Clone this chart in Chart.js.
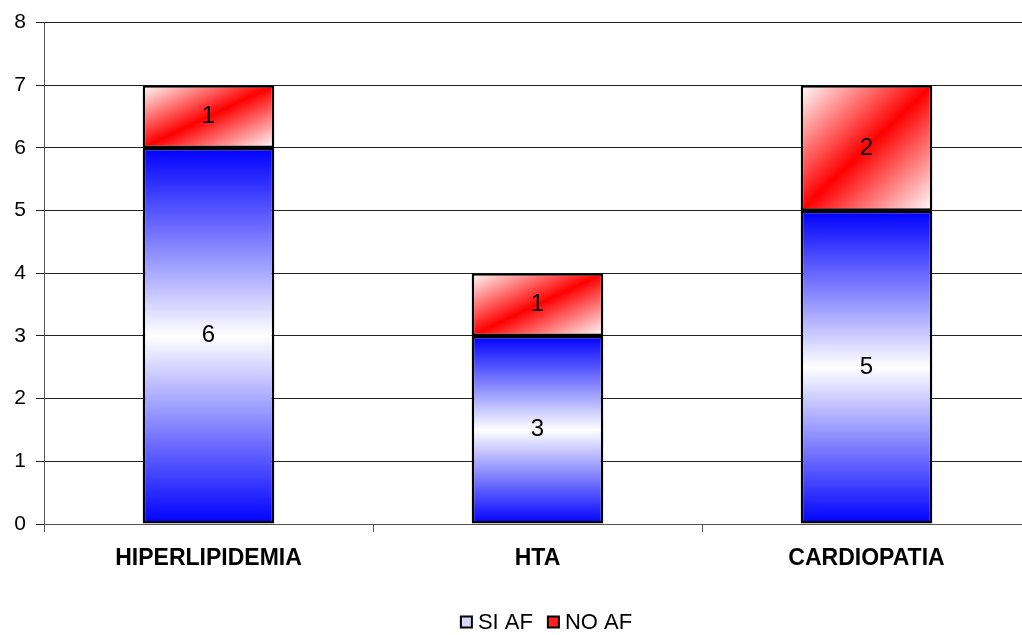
<!DOCTYPE html>
<html>
<head>
<meta charset="utf-8">
<script src="https://cdn.jsdelivr.net/npm/chart.js@4/dist/chart.umd.min.js"></script>
<style>
  html, body { margin: 0; padding: 0; background: #fff; overflow: hidden; }
  #wrap { width: 1022px; height: 635px; overflow: hidden; }
  #wrap div { width: 1092px; height: 635px; position: relative; }
</style>
</head>
<body>
<div id="wrap"><div><canvas id="chart"></canvas></div></div>
<script>
const categories = ["HIPERLIPIDEMIA", "HTA", "CARDIOPATIA"];
const siAf = [6, 3, 5];
const noAf = [1, 1, 2];
const yTicks = [0, 1, 2, 3, 4, 5, 6, 7, 8];
const seriesNames = ["SI AF", "NO AF"];
const legendColors = ["#d8d8ff", "#ff2020"];

const FONT = "Arial, 'Liberation Sans', sans-serif";

// bar rectangle from the scales, so gradients follow the bars
function barRect(ctx) {
    const chart = ctx.chart;
    const xs = chart.scales.x, ys = chart.scales.y;
    if (!xs || !ys || !chart.chartArea) return null;
    const i = ctx.dataIndex;
    const cx = xs.getPixelForValue(i);
    const w = xs.width / categories.length * 0.4;
    let base = 0;
    for (let d = 0; d < ctx.datasetIndex; d++) base += chart.data.datasets[d].data[i];
    const top = base + chart.data.datasets[ctx.datasetIndex].data[i];
    return { x0: cx - w / 2, x1: cx + w / 2, y0: ys.getPixelForValue(top), y1: ys.getPixelForValue(base) };
}

function blueFill(ctx) {
    const r = barRect(ctx);
    if (!r) return "#0000ff";
    const g = ctx.chart.ctx.createLinearGradient(0, r.y0, 0, r.y1);
    g.addColorStop(0, "#0000ff");
    g.addColorStop(0.5, "#ffffff");
    g.addColorStop(1, "#0000ff");
    return g;
}

function redFill(ctx) {
    const r = barRect(ctx);
    if (!r) return "#ff0000";
    const w = r.x1 - r.x0, h = r.y1 - r.y0;
    const cx = (r.x0 + r.x1) / 2, cy = (r.y0 + r.y1) / 2;
    const k = w * h / (w * w + h * h);
    const g = ctx.chart.ctx.createLinearGradient(cx - k * h, cy - k * w, cx + k * h, cy + k * w);
    g.addColorStop(0, "#ffffff");
    g.addColorStop(0.5, "#ff0000");
    g.addColorStop(1, "#ffffff");
    return g;
}

const valueLabels = {
    id: "valueLabels",
    afterDatasetsDraw(chart) {
        const c = chart.ctx;
        c.save();
        c.font = "24px " + FONT;
        c.fillStyle = "#000";
        c.textAlign = "center";
        c.textBaseline = "middle";
        chart.data.datasets.forEach((ds, di) => {
            chart.getDatasetMeta(di).data.forEach((bar, i) => {
                c.fillText(String(ds.data[i]), bar.x, (bar.y + bar.base) / 2);
            });
        });
        c.restore();
    }
};

// legend like the original: small squares, centred a bit right of the plot middle
const bottomLegend = {
    id: "bottomLegend",
    afterDraw(chart) {
        const c = chart.ctx;
        const a = chart.chartArea;
        c.save();
        c.font = "22px " + FONT;
        const box = 11, gap = 6, sep = 15;
        const widths = seriesNames.map(t => box + gap + c.measureText(t).width);
        const total = widths.reduce((s, w) => s + w, 0) + sep * (seriesNames.length - 1);
        let x = (a.left + a.right) / 2 + 9 - total / 2;
        const y = 622;
        seriesNames.forEach((t, i) => {
            c.fillStyle = legendColors[i];
            c.fillRect(x, y - box / 2, box, box);
            c.strokeStyle = "#000";
            c.lineWidth = 2;
            c.strokeRect(x, y - box / 2, box, box);
            c.fillStyle = "#000";
            c.textAlign = "left";
            c.textBaseline = "middle";
            c.fillText(t, x + box + gap, y + 1);
            x += widths[i] + sep;
        });
        c.restore();
    }
};

new Chart(document.getElementById("chart"), {
    type: "bar",
    data: {
        labels: categories,
        datasets: [
            { label: seriesNames[0], data: siAf, backgroundColor: blueFill },
            { label: seriesNames[1], data: noAf, backgroundColor: redFill }
        ]
    },
    options: {
        responsive: true,
        maintainAspectRatio: false,
        animation: false,
        layout: { padding: { top: 22, right: 61, left: 0, bottom: 29 } },
        datasets: {
            bar: {
                borderColor: "#000",
                borderWidth: 2.5,
                borderSkipped: false,
                categoryPercentage: 1,
                barPercentage: 0.4
            }
        },
        plugins: {
            tooltip: { enabled: false },
            legend: { display: false }
        },
        scales: {
            x: {
                stacked: true,
                grid: {
                    offset: true,
                    drawOnChartArea: false,
                    drawTicks: true,
                    tickLength: 8,
                    color: "#555"
                },
                border: { color: "#555", width: 1 },
                ticks: {
                    color: "#000",
                    padding: 13,
                    font: { family: FONT, size: 23, weight: "bold" }
                },
                afterFit(scale) { scale.height = 82; }
            },
            y: {
                stacked: true,
                min: 0,
                max: 8,
                afterBuildTicks(scale) { scale.ticks = yTicks.map(v => ({ value: v })); },
                grid: { color: "#222", tickLength: 8 },
                border: { color: "#555", width: 1 },
                ticks: {
                    color: "#000",
                    padding: 10,
                    font: { family: FONT, size: 21 }
                },
                afterFit(scale) { scale.width = 44; }
            }
        }
    },
    plugins: [valueLabels, bottomLegend]
});
</script>
</body>
</html>
